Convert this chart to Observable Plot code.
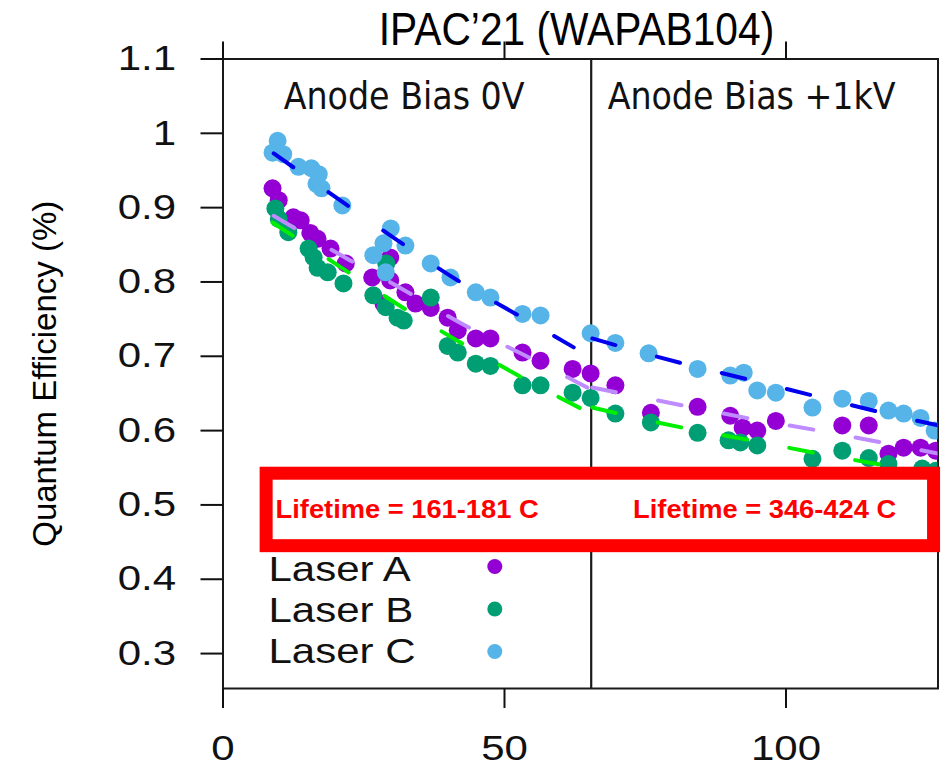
<!DOCTYPE html>
<html><head><meta charset="utf-8">
<script src="https://cdn.jsdelivr.net/npm/d3@7"></script>
<script src="https://cdn.jsdelivr.net/npm/@observablehq/plot@0.6"></script>
<style>
body{margin:0;background:#fff;}
#chart svg{display:block;}
g[aria-label="bias"] text{font-stretch:condensed;}
</style></head><body><div id="chart"></div>
<script>
// ---------- data ----------
const title = "IPAC’21 (WAPAB104)";
const yLabel = "Quantum Efficiency (%)";
const lasers = ["Laser A", "Laser B", "Laser C"];
const dotColors = ["#9400D3", "#009E73", "#56B4E9"];
const fitColors = ["#BF8CFF", "#00EE00", "#0000EE"];

const biasLabels = ["Anode Bias 0V", "Anode Bias +1kV"];
const lifetimeLabels = ["Lifetime = 161-181 C", "Lifetime = 346-424 C"];
const biasEdges = [0, 65.4, 127];           // charge (C): start, bias change, end
const boxQ = [7.75, 126.3];                 // highlighted box extent (charge)
const boxQE = [0.4445, 0.542];              // highlighted box extent (QE)

const xTicks = [0, 50, 100];
const yTicks = [0.3, 0.4, 0.5, 0.6, 0.7, 0.8, 0.9, 1, 1.1];

const laserA_Q  = [8.8, 9.9, 12.5, 13.8, 15.5, 16.8, 19.1, 21.8, 26.5, 29.7, 29.7, 32.4, 28.5, 34.2, 36.9, 39.9, 41.7, 44.9, 47.5, 53.2, 56.4, 62.1, 65.3, 69.7, 76.0, 84.3, 90.1, 92.3, 94.9, 98.2, 110.0, 114.7, 118.2, 120.9, 123.9, 126.6];
const laserA_QE = [0.926, 0.910, 0.887, 0.883, 0.866, 0.858, 0.845, 0.825, 0.806, 0.833, 0.802, 0.786, 0.771, 0.771, 0.765, 0.752, 0.735, 0.724, 0.724, 0.705, 0.694, 0.683, 0.677, 0.661, 0.624, 0.632, 0.620, 0.604, 0.600, 0.613, 0.607, 0.607, 0.569, 0.577, 0.577, 0.573];

const laserB_Q  = [9.3, 9.9, 11.6, 15.2, 16.1, 16.8, 18.6, 21.4, 26.7, 28.9, 29.0, 31.0, 32.1, 36.9, 39.9, 41.7, 44.9, 47.5, 53.2, 56.4, 62.1, 65.3, 69.7, 76.0, 84.3, 89.8, 91.9, 94.9, 104.7, 110.0, 114.7, 118.2, 124.2, 126.6];
const laserB_QE = [0.899, 0.885, 0.867, 0.845, 0.833, 0.819, 0.813, 0.798, 0.782, 0.766, 0.825, 0.752, 0.748, 0.779, 0.714, 0.705, 0.690, 0.687, 0.661, 0.661, 0.651, 0.644, 0.623, 0.611, 0.597, 0.587, 0.584, 0.580, 0.562, 0.573, 0.563, 0.555, 0.549, 0.546];

const laserC_Q  = [9.7, 8.8, 10.7, 13.4, 15.7, 17.0, 16.6, 17.5, 21.2, 29.8, 28.5, 32.4, 26.7, 28.9, 36.9, 40.4, 44.9, 47.5, 53.2, 56.4, 65.3, 69.7, 75.6, 84.3, 90.1, 92.5, 94.9, 98.2, 104.7, 110.0, 114.7, 118.2, 120.9, 123.9, 126.4];
const laserC_QE = [0.990, 0.974, 0.972, 0.955, 0.953, 0.945, 0.932, 0.926, 0.903, 0.872, 0.852, 0.849, 0.836, 0.813, 0.825, 0.806, 0.786, 0.779, 0.757, 0.755, 0.731, 0.718, 0.704, 0.683, 0.674, 0.678, 0.654, 0.651, 0.631, 0.643, 0.640, 0.627, 0.623, 0.617, 0.600];

// fitted curves
const fitA_0V_Q   = [9.0, 22.6, 30.1, 43.1, 53.4, 64.7];
const fitA_0V_QE  = [0.889, 0.829, 0.798, 0.741, 0.702, 0.658];
const fitA_1kV_Q  = [65.6, 81.6, 93.7, 105.8, 117.7, 127.0];
const fitA_1kV_QE = [0.658, 0.634, 0.616, 0.600, 0.583, 0.569];
const fitB_0V_Q   = [8.8, 22.3, 28.5, 42.5, 53.2, 63.5];
const fitB_0V_QE  = [0.880, 0.813, 0.782, 0.717, 0.671, 0.630];
const fitB_1kV_Q  = [65.6, 81.6, 93.7, 105.2, 118.0, 127.0];
const fitB_1kV_QE = [0.631, 0.604, 0.587, 0.570, 0.553, 0.543];
const fitC_0V_Q   = [9.0, 22.1, 28.5, 41.7, 52.0, 62.3];
const fitC_0V_QE  = [0.973, 0.903, 0.869, 0.802, 0.757, 0.712];
const fitC_1kV_Q  = [65.6, 81.3, 93.2, 104.9, 117.2, 127.0];
const fitC_1kV_QE = [0.724, 0.691, 0.669, 0.647, 0.624, 0.607];

// ---------- build ----------
const pts = (Q, QE) => Q.map((q, i) => ({q, qe: QE[i]}));
const series = [
  {pts: pts(laserA_Q, laserA_QE), fits: [pts(fitA_0V_Q, fitA_0V_QE), pts(fitA_1kV_Q, fitA_1kV_QE)]},
  {pts: pts(laserB_Q, laserB_QE), fits: [pts(fitB_0V_Q, fitB_0V_QE), pts(fitB_1kV_Q, fitB_1kV_QE)]},
  {pts: pts(laserC_Q, laserC_QE), fits: [pts(fitC_0V_Q, fitC_0V_QE), pts(fitC_1kV_Q, fitC_1kV_QE)]}
];
const regions = biasLabels.map((label, i) => ({label, lifetime: lifetimeLabels[i], mid: (biasEdges[i] + biasEdges[i + 1]) / 2}));
const box = [{x1: boxQ[0], x2: boxQ[1], y1: boxQE[0], y2: boxQE[1]}];
const boxMid = (boxQE[0] + boxQE[1]) / 2;
const SANS = "Liberation Sans, Arial, sans-serif";

const marks = [];
marks.push(Plot.frame({stroke: "#1a1a1a", strokeWidth: 2}));
marks.push(Plot.ruleX([biasEdges[1]], {stroke: "#1a1a1a", strokeWidth: 2.2}));
series.forEach((s, i) => {
  marks.push(Plot.dot(s.pts, {x: "q", y: "qe", r: 9, fill: dotColors[i], stroke: "none", clip: true}));
});
series.forEach((s, i) => {
  s.fits.forEach(f => marks.push(Plot.line(f, {x: "q", y: "qe", stroke: fitColors[i], strokeWidth: 4, strokeDasharray: "24,43", curve: "monotone-x", clip: true})));
});
marks.push(Plot.rect(box, {x1: "x1", x2: "x2", y1: "y1", y2: "y2", fill: "white", stroke: "#FF0000", strokeWidth: 13}));
marks.push(Plot.text(regions, {x: "mid", y: () => boxMid, text: "lifetime", fill: "#FF0000", fontWeight: "bold", fontSize: 26, fontFamily: SANS, lineAnchor: "middle"}));
// bias labels (one mark per panel so each can be nudged)
[-3, -13].forEach((shift, i) => {
  marks.push(Plot.text([regions[i]], {x: "mid", frameAnchor: "top", dx: shift, dy: 38, text: "label", fill: "#111", fontSize: 37, fontFamily: "DejaVu Sans Condensed, DejaVu Sans, sans-serif", lineAnchor: "middle", ariaLabel: "bias"}));
});
// legend
lasers.forEach((name, i) => {
  marks.push(Plot.text([name], {frameAnchor: "bottom-left", dx: 45.5, dy: -119 + 41.3 * i, text: d => d, textAnchor: "start", lineAnchor: "middle", fontSize: 35, fill: "#111", fontFamily: SANS}));
  marks.push(Plot.dot([name], {frameAnchor: "bottom-left", dx: 271.8, dy: -122 + 42.5 * i, r: 7.5, fill: dotColors[i], stroke: "none"}));
});
// title & y label
marks.push(Plot.text([title], {frameAnchor: "top", dx: -4, dy: -28.5, text: d => d, textAnchor: "middle", fontSize: 46, fill: "#000", fontFamily: SANS, lineAnchor: "middle"}));
marks.push(Plot.text([yLabel], {frameAnchor: "left", dx: -177.5, text: d => d, textAnchor: "middle", rotate: -90, fontSize: 33, fill: "#000", fontFamily: SANS, lineAnchor: "middle"}));
// axes: tick lines from Plot axes, labels as text marks
marks.push(Plot.axisY({ticks: yTicks, tickSize: 22, strokeWidth: 2, tickFormat: () => "", label: null}));
marks.push(Plot.axisX({anchor: "bottom", ticks: xTicks, tickSize: 20, strokeWidth: 2, tickFormat: () => "", label: null}));
marks.push(Plot.axisX({anchor: "top", ticks: xTicks, tickSize: 18, strokeWidth: 2, tickFormat: () => "", label: null}));
marks.push(Plot.text(yTicks, {frameAnchor: "left", y: d => d, text: d => `${d}`, dx: -47, textAnchor: "end", lineAnchor: "middle", fontSize: 35, fill: "#111", fontFamily: SANS}));
marks.push(Plot.text(xTicks, {x: d => d, frameAnchor: "bottom", text: d => `${d}`, dy: 47, textAnchor: "middle", lineAnchor: "top", fontSize: 35, fill: "#111", fontFamily: SANS}));

const plot = Plot.plot({
  width: 948, height: 767,
  marginLeft: 222.5, marginRight: 10.5, marginTop: 58.5, marginBottom: 79,
  style: {fontFamily: SANS, color: "#111", background: "white"},
  x: {domain: [biasEdges[0], biasEdges[2]], label: null},
  y: {domain: [0.253, 1.1], label: null},
  marks
});
document.getElementById("chart").appendChild(plot);

// horizontal stretch of some texts (the reference picture is slightly widened)
const NS = "http://www.w3.org/2000/svg";
function stretchText(list, s) {
  const set = new Set(list.map(String));
  Array.from(plot.querySelectorAll("text")).filter(t => set.has(t.textContent.trim())).forEach(t => {
    const g = document.createElementNS(NS, "g");
    t.parentNode.insertBefore(g, t);
    g.appendChild(t);
    const b = g.getBBox();
    const a = getComputedStyle(t).textAnchor;
    const ax = a === "end" ? b.x + b.width : a === "middle" ? b.x + b.width / 2 : b.x;
    g.setAttribute("transform", `translate(${ax},0) scale(${s},1) translate(${-ax},0)`);
  });
}
stretchText(yTicks.map(d => `${d}`), 1.2);
stretchText(xTicks.map(d => `${d}`), 1.2);
stretchText(lasers, 1.2);
stretchText([title], 0.886);
stretchText(lifetimeLabels, 1.05);
</script></body></html>
